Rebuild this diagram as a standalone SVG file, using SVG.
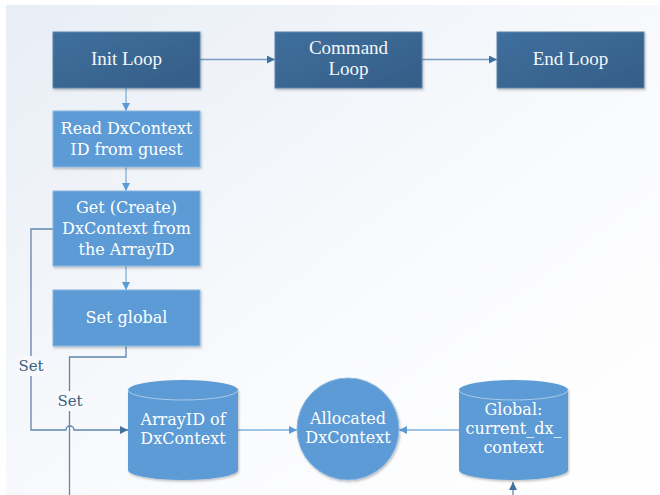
<svg xmlns="http://www.w3.org/2000/svg" width="660" height="495" viewBox="0 0 660 495">
<defs>
<linearGradient id="bg" x1="0" y1="0" x2="1" y2="1">
<stop offset="0" stop-color="#e8eef6"/>
<stop offset="0.6" stop-color="#fafbfd"/>
<stop offset="1" stop-color="#ffffff"/>
</linearGradient>
<linearGradient id="dark" x1="0" y1="0" x2="1" y2="1">
<stop offset="0" stop-color="#3f6f9d"/>
<stop offset="1" stop-color="#345e87"/>
</linearGradient>
<filter id="sh" x="-10%" y="-10%" width="130%" height="130%">
<feDropShadow dx="1" dy="1.5" stdDeviation="1.2" flood-color="#000" flood-opacity="0.25"/>
</filter>
<marker id="ad" viewBox="0 0 10 10" refX="10" refY="5" markerWidth="8" markerHeight="8" markerUnits="userSpaceOnUse" orient="auto">
<path d="M0,0 L10,5 L0,10 z" fill="#41719c"/>
</marker>
<marker id="al" viewBox="0 0 10 10" refX="10" refY="5" markerWidth="8" markerHeight="8" markerUnits="userSpaceOnUse" orient="auto">
<path d="M0,0 L10,5 L0,10 z" fill="#5b9bd5"/>
</marker>
</defs>
<style>
.dk{fill:url(#dark);stroke:#5d85ab;stroke-width:1;filter:url(#sh)}
.lt{fill:#5b9bd5;stroke:#8bb8e0;stroke-width:1;filter:url(#sh)}
.cy{fill:#5b9bd5;filter:url(#sh)}
.rim{fill:none;stroke:#a9c9e8;stroke-width:1}
.t{font-family:"Liberation Serif","DejaVu Serif",serif;fill:#ffffff;text-anchor:middle}
.td{font-size:19px;fill:#f4f7fb}
.tl{font-size:16px;font-family:"DejaVu Serif","Liberation Serif",serif}
.lbl{font-family:"DejaVu Serif","Liberation Serif",serif;font-size:15px;fill:#3d5d80;text-anchor:middle}
.cd{fill:none;stroke:#7a9cc2;stroke-width:1.3}
.cl{fill:none;stroke:#7fb0de;stroke-width:1.3}
.cb{fill:none;stroke:#5f86ad;stroke-width:1.3}
</style>
<rect x="0" y="0" width="660" height="495" fill="#ffffff"/>
<rect x="6" y="5" width="654" height="490" fill="url(#bg)"/>

<g id="connectors">
<line class="cd" x1="200" y1="59.5" x2="275" y2="59.5" marker-end="url(#ad)"/>
<line class="cd" x1="422" y1="59.5" x2="497" y2="59.5" marker-end="url(#ad)"/>
<line class="cl" x1="126" y1="88" x2="126" y2="111" marker-end="url(#al)"/>
<line class="cl" x1="126" y1="167" x2="126" y2="191" marker-end="url(#al)"/>
<line class="cl" x1="126" y1="266" x2="126" y2="290" marker-end="url(#al)"/>
<path class="cb" d="M53,229 H31 V430 H66 A4,4 0 0 1 74,430 H128" marker-end="url(#ad)"/>
<path class="cb" d="M126,346 V357 H69.5 V495"/>
<line class="cl" x1="238" y1="430" x2="297" y2="430" marker-end="url(#al)"/>
<line class="cl" x1="459" y1="430" x2="399" y2="430" marker-end="url(#al)"/>
<line class="cb" x1="513" y1="495" x2="513" y2="482" marker-end="url(#ad)"/>
<rect x="17" y="356" width="28" height="20" fill="#f6f8fb"/>
<text class="lbl" x="31" y="371">Set</text>
<rect x="56" y="391" width="28" height="20" fill="#f7f9fc"/>
<text class="lbl" x="70" y="406">Set</text>
</g>

<g id="init-loop">
<rect class="dk" x="53" y="32" width="147" height="56"/>
<text class="t td" x="126.5" y="65">Init Loop</text>
</g>
<g id="command-loop">
<rect class="dk" x="275" y="32" width="147" height="56"/>
<text class="t td" x="348.5" y="54">Command</text>
<text class="t td" x="348.5" y="75">Loop</text>
</g>
<g id="end-loop">
<rect class="dk" x="497" y="32" width="147" height="56"/>
<text class="t td" x="570.5" y="65">End Loop</text>
</g>
<g id="read-id">
<rect class="lt" x="53" y="111" width="147" height="56"/>
<text class="t tl" x="126.5" y="134">Read DxContext</text>
<text class="t tl" x="126.5" y="155">ID from guest</text>
</g>
<g id="get-create">
<rect class="lt" x="53" y="191" width="147" height="75"/>
<text class="t tl" x="126.5" y="213">Get (Create)</text>
<text class="t tl" x="126.5" y="234">DxContext from</text>
<text class="t tl" x="126.5" y="255">the ArrayID</text>
</g>
<g id="set-global">
<rect class="lt" x="53" y="290" width="147" height="56"/>
<text class="t tl" x="126.5" y="323">Set global</text>
</g>
<g id="arrayid-store">
<path class="cy" d="M128,390 A55,10 0 0 1 238,390 V470 A55,10 0 0 1 128,470 Z"/>
<path class="rim" d="M128,390 A55,10 0 0 0 238,390"/>
<text class="t tl" x="183" y="425">ArrayID of</text>
<text class="t tl" x="183" y="444">DxContext</text>
</g>
<g id="allocated">
<circle cx="348" cy="429" r="51" fill="#5b9bd5" stroke="#8bb8e0" stroke-width="1" filter="url(#sh)"/>
<text class="t tl" x="348" y="424">Allocated</text>
<text class="t tl" x="348" y="443">DxContext</text>
</g>
<g id="global-store">
<path class="cy" d="M459,390 A54.5,10 0 0 1 568,390 V470 A54.5,10 0 0 1 459,470 Z"/>
<path class="rim" d="M459,390 A54.5,10 0 0 0 568,390"/>
<text class="t tl" x="513.5" y="415">Global:</text>
<text class="t tl" x="513.5" y="434">current_dx_</text>
<text class="t tl" x="513.5" y="453">context</text>
</g>
</svg>
